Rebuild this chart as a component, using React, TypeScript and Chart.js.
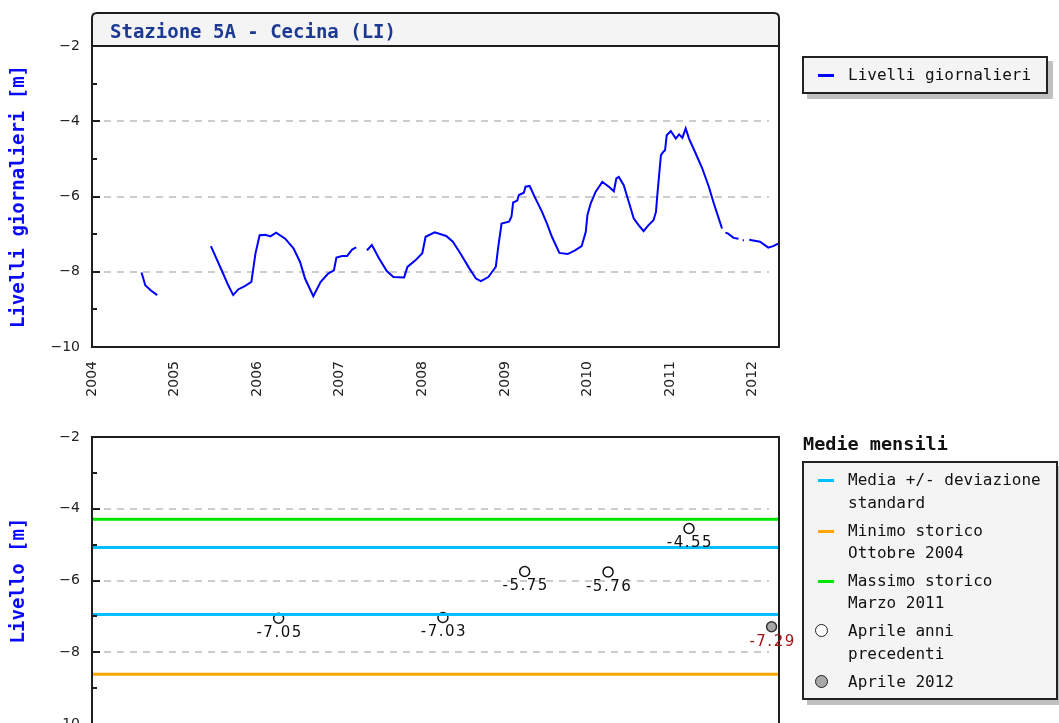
import React, { useEffect, useRef } from "react";
import { Chart, registerables } from "chart.js";

Chart.register(...registerables);

// ---------- data ----------
const X_MIN = 2004;
const X_MAX = 2012.32;
const yearTicks = [2004, 2005, 2006, 2007, 2008, 2009, 2010, 2011, 2012];
const levelTicks = [-10, -8, -6, -4, -2];
const minorLevels = [-9, -7, -5, -3];
const gridLevels = [-8, -6, -4];

// daily levels (decimal year, metres); null = missing data
const levelTimes = [
  2004.6, 2004.645, 2004.71, 2004.79, 2005.0,
  2005.44, 2005.57, 2005.65, 2005.71, 2005.77, 2005.85, 2005.93, 2005.98, 2006.03, 2006.1,
  2006.16, 2006.23, 2006.34, 2006.44, 2006.52, 2006.58, 2006.68, 2006.77, 2006.86, 2006.93,
  2006.96, 2007.03, 2007.09, 2007.15, 2007.2, 2007.26,
  2007.33, 2007.39, 2007.47, 2007.57, 2007.65, 2007.78, 2007.82, 2007.92, 2008.0, 2008.04,
  2008.15, 2008.29, 2008.37, 2008.46, 2008.57, 2008.65, 2008.71, 2008.8, 2008.86, 2008.89,
  2008.92, 2008.96, 2009.05, 2009.08, 2009.1, 2009.15, 2009.17, 2009.23, 2009.25, 2009.3,
  2009.37, 2009.45, 2009.51, 2009.57, 2009.66, 2009.76, 2009.85, 2009.93, 2009.98, 2010.0,
  2010.04, 2010.1, 2010.18, 2010.26, 2010.32, 2010.35, 2010.38, 2010.44, 2010.5, 2010.56,
  2010.62, 2010.68, 2010.74, 2010.8, 2010.83, 2010.85, 2010.89, 2010.92, 2010.94, 2010.96,
  2011.01, 2011.07, 2011.11, 2011.15, 2011.19, 2011.23, 2011.31, 2011.39, 2011.47, 2011.53,
  2011.59, 2011.63, 2011.655, 2011.67, 2011.7, 2011.77, 2011.83, 2011.86, 2011.88, 2011.895,
  2011.92, 2011.96, 2011.99, 2012.09, 2012.19, 2012.25, 2012.31,
];
const levelValues = [
  -8.02, -8.36, -8.49, -8.62, null,
  -7.32, -7.96, -8.36, -8.62, -8.47, -8.38, -8.27, -7.51, -7.03, -7.02,
  -7.06, -6.96, -7.12, -7.38, -7.74, -8.18, -8.65, -8.27, -8.05, -7.96,
  -7.62, -7.58, -7.58, -7.41, -7.35, null,
  -7.43, -7.29, -7.62, -7.98, -8.14, -8.15, -7.87, -7.69, -7.51, -7.07,
  -6.95, -7.05, -7.2, -7.51, -7.91, -8.18, -8.25, -8.14, -7.96, -7.87,
  -7.34, -6.72, -6.67, -6.54, -6.16, -6.11, -5.96, -5.9, -5.74, -5.72,
  -6.05, -6.41, -6.72, -7.07, -7.5, -7.53, -7.43, -7.32, -6.94, -6.49,
  -6.18, -5.87, -5.61, -5.74, -5.86, -5.52, -5.48, -5.7, -6.14, -6.58,
  -6.76, -6.92, -6.76, -6.63, -6.41, -5.87, -4.9, -4.81, -4.77, -4.37,
  -4.26, -4.46, -4.35, -4.44, -4.19, -4.46, -4.85, -5.25, -5.74, -6.18,
  -6.58, -6.85, null, -6.96, -6.98, -7.1, -7.12, null, -7.16, -7.16,
  null, -7.15, -7.16, -7.2, -7.36, -7.32, -7.25,
];

// monthly means (April)
const aprilYears = [2006.26, 2008.25, 2009.24, 2010.25, 2011.23];
const aprilValues = [-7.05, -7.03, -5.75, -5.76, -4.55];
const april2012Years = [2012.23];
const april2012Values = [-7.29];
const meanPlusSd = -5.08;
const meanMinusSd = -6.95;
const historicMin = -8.61;
const historicMax = -4.29;

// ---------- helpers ----------
const MONO = '"DejaVu Sans Mono", monospace';
const SANS = '"DejaVu Sans", sans-serif';

const decorPlugin = {
  id: "decor",
  beforeDatasetsDraw(chart: any, _args: any, opts: any) {
    const { ctx, chartArea: a, scales } = chart;
    const y = scales.y;
    ctx.save();
    if (opts.header) {
      ctx.fillStyle = "#f4f4f4";
      ctx.fillRect(a.left, a.top - 33, a.right - a.left, 33);
    }
    ctx.strokeStyle = "#cccccc";
    ctx.lineWidth = 2;
    ctx.setLineDash([7, 6]);
    for (const v of gridLevels) {
      const py = Math.round(y.getPixelForValue(v));
      ctx.beginPath();
      ctx.moveTo(a.left + 12, py);
      ctx.lineTo(a.right - 10, py);
      ctx.stroke();
    }
    ctx.restore();
  },
  afterDraw(chart: any, _args: any, opts: any) {
    const { ctx, chartArea: a, scales } = chart;
    const y = scales.y;
    const x = scales.x;
    ctx.save();
    ctx.strokeStyle = "#1e1e1e";
    ctx.lineWidth = 2;
    ctx.setLineDash([]);
    // frame
    const L = a.left, R = a.right, B = a.bottom;
    if (opts.header) {
      const T = a.top - 33;
      const r = 5;
      ctx.beginPath();
      ctx.moveTo(L, B);
      ctx.lineTo(L, T + r);
      ctx.quadraticCurveTo(L, T, L + r, T);
      ctx.lineTo(R - r, T);
      ctx.quadraticCurveTo(R, T, R, T + r);
      ctx.lineTo(R, B);
      ctx.closePath();
      ctx.stroke();
      ctx.beginPath();
      ctx.moveTo(L, a.top);
      ctx.lineTo(R, a.top);
      ctx.stroke();
      ctx.fillStyle = "#1c3a94";
      ctx.font = "bold 19px " + MONO;
      ctx.textAlign = "left";
      ctx.textBaseline = "alphabetic";
      ctx.fillText(opts.header, L + 18, a.top - 8);
    } else {
      ctx.strokeRect(L, a.top, R - L, B - a.top);
    }
    // inner ticks on the y axis
    for (const v of levelTicks) {
      const py = Math.round(y.getPixelForValue(v));
      ctx.beginPath();
      ctx.moveTo(L, py);
      ctx.lineTo(L + 8, py);
      ctx.stroke();
    }
    for (const v of minorLevels) {
      const py = Math.round(y.getPixelForValue(v));
      ctx.beginPath();
      ctx.moveTo(L, py);
      ctx.lineTo(L + 5, py);
      ctx.stroke();
    }
    // value labels under points
    chart.data.datasets.forEach((ds: any) => {
      if (!ds.valueLabelColor) return;
      ctx.fillStyle = ds.valueLabelColor;
      ctx.font = "15px " + SANS;
      ctx.textAlign = "center";
      ctx.textBaseline = "middle";
      try { (ctx as any).letterSpacing = "1.5px"; } catch (e) {}
      ds.data.forEach((p: any) => {
        const px = x.getPixelForValue(p.x);
        const py = y.getPixelForValue(p.y);
        ctx.fillText(p.y.toFixed(2), px + 1, py + 15);
      });
      try { (ctx as any).letterSpacing = "0px"; } catch (e) {}
    });
    ctx.restore();
  },
};

function yAxis(title: string) {
  return {
    min: -10,
    max: -2,
    grid: { display: false, drawTicks: false },
    border: { display: false },
    afterBuildTicks: (s: any) => {
      s.ticks = levelTicks.map((v) => ({ value: v }));
    },
    afterFit: (s: any) => {
      s.width = 92;
    },
    ticks: {
      padding: 12,
      color: "#222",
      font: { family: SANS, size: 14 },
      callback: (v: any) => String(v).replace("-", "\u2212"),
    },
    title: {
      display: true,
      text: title,
      color: "#0a0aff",
      font: { family: MONO, size: 19, weight: "bold" },
      padding: { top: 8, bottom: 0 },
    },
  };
}

const hline = (v: number, color: string) => ({
  type: "line",
  data: [
    { x: X_MIN, y: v },
    { x: X_MAX, y: v },
  ],
  borderColor: color,
  borderWidth: 3,
  pointRadius: 0,
  clip: false,
});

export default function App() {
  const topRef = useRef<HTMLCanvasElement>(null);
  const botRef = useRef<HTMLCanvasElement>(null);

  useEffect(() => {
    const top = new Chart(topRef.current as HTMLCanvasElement, {
      type: "line",
      data: {
        datasets: [
          {
            label: "Livelli giornalieri",
            data: levelTimes.map((t, i) => ({ x: t, y: levelValues[i] })) as any,
            borderColor: "#0000ff",
            borderWidth: 2,
            pointRadius: 0,
            spanGaps: false,
            tension: 0,
          },
        ],
      },
      options: {
        responsive: false,
        animation: false,
        events: [],
        layout: { padding: { top: 46, left: 0, right: 280, bottom: 0 } },
        plugins: {
          legend: { display: false },
          tooltip: { enabled: false },
          decor: { header: "Stazione 5A - Cecina (LI)" },
        } as any,
        scales: {
          x: {
            type: "linear",
            min: X_MIN,
            max: X_MAX,
            grid: { display: false, drawTicks: false },
            border: { display: false },
            afterBuildTicks: (s: any) => {
              s.ticks = yearTicks.map((v) => ({ value: v }));
            },
            afterFit: (s: any) => {
              s.height = 63;
            },
            ticks: {
              autoSkip: false,
              minRotation: 90,
              maxRotation: 90,
              padding: 14,
              color: "#222",
              font: { family: SANS, size: 14 },
              callback: (v: any) => String(Math.round(v)),
            },
          },
          y: yAxis("Livelli giornalieri [m]") as any,
        },
      },
      plugins: [decorPlugin as any],
    });

    const bot = new Chart(botRef.current as HTMLCanvasElement, {
      type: "line",
      data: {
        datasets: [
          hline(historicMax, "#00e600") as any,
          hline(meanPlusSd, "#00bfff") as any,
          hline(meanMinusSd, "#00bfff") as any,
          hline(historicMin, "#ffa500") as any,
          {
            label: "Aprile anni precedenti",
            data: aprilYears.map((t, i) => ({ x: t, y: aprilValues[i] })),
            showLine: false,
            pointRadius: 5,
            pointBorderWidth: 1.5,
            pointBorderColor: "#111",
            pointBackgroundColor: "#ffffff",
            clip: false,
            valueLabelColor: "#111",
          } as any,
          {
            label: "Aprile 2012",
            data: april2012Years.map((t, i) => ({ x: t, y: april2012Values[i] })),
            showLine: false,
            pointRadius: 5,
            pointBorderWidth: 1.5,
            pointBorderColor: "#333",
            pointBackgroundColor: "#a8a8a8",
            clip: false,
            valueLabelColor: "#a01414",
          } as any,
        ],
      },
      options: {
        responsive: false,
        animation: false,
        events: [],
        layout: { padding: { top: 37, left: 0, right: 280, bottom: 76 } },
        plugins: {
          legend: { display: false },
          tooltip: { enabled: false },
          decor: { header: "" },
        } as any,
        scales: {
          x: { type: "linear", min: X_MIN, max: X_MAX, display: false },
          y: yAxis("Livello [m]") as any,
        },
      },
      plugins: [decorPlugin as any],
    });

    return () => {
      top.destroy();
      bot.destroy();
    };
  }, []);

  const legendText: React.CSSProperties = {
    position: "absolute",
    left: 44,
    font: `16px ${MONO}`,
    lineHeight: "22px",
    color: "#111",
    whiteSpace: "nowrap",
  };
  const dash = (color: string, topPx: number): React.CSSProperties => ({
    position: "absolute",
    left: 14,
    top: topPx - 1.5,
    width: 16,
    height: 3,
    background: color,
  });
  const circle = (fill: string, topPx: number): React.CSSProperties => ({
    position: "absolute",
    left: 11,
    top: topPx - 7,
    width: 11,
    height: 11,
    borderRadius: "50%",
    border: "1.5px solid #222",
    background: fill,
  });
  const rows: Array<[string, number]> = [
    ["Media +/- deviazione", 19],
    ["standard", 42],
    ["Minimo storico", 70],
    ["Ottobre 2004", 92],
    ["Massimo storico", 120],
    ["Marzo 2011", 142],
    ["Aprile anni", 170],
    ["precedenti", 193],
    ["Aprile 2012", 221],
  ];

  return (
    <div
      style={{
        position: "absolute",
        left: 0,
        top: 0,
        width: 1059,
        height: 723,
        overflow: "hidden",
        background: "#fff",
      }}
    >
      <canvas ref={topRef} width={1059} height={410} style={{ position: "absolute", left: 0, top: 0 }} />
      <canvas ref={botRef} width={1059} height={400} style={{ position: "absolute", left: 0, top: 400 }} />

      {/* top legend */}
      <div
        style={{
          position: "absolute",
          left: 802,
          top: 56,
          width: 246,
          height: 38,
          boxSizing: "border-box",
          border: "2px solid #222",
          background: "#f4f4f4",
          boxShadow: "5px 5px 0 #c0c0c0",
        }}
      >
        <div style={dash("#0000ff", 17)} />
        <div style={{ ...legendText, top: 6 }}>Livelli giornalieri</div>
      </div>

      {/* bottom legend */}
      <div
        style={{
          position: "absolute",
          left: 803,
          top: 433,
          font: `bold 18.5px ${MONO}`,
          lineHeight: "22px",
          color: "#111",
          whiteSpace: "nowrap",
        }}
      >
        Medie mensili
      </div>
      <div
        style={{
          position: "absolute",
          left: 802,
          top: 461,
          width: 256,
          height: 239,
          boxSizing: "border-box",
          border: "2px solid #222",
          background: "#f4f4f4",
          boxShadow: "5px 5px 0 #c0c0c0",
        }}
      >
        <div style={dash("#00bfff", 19 - 2)} />
        <div style={dash("#ffa500", 70 - 2)} />
        <div style={dash("#00e600", 120 - 2)} />
        <div style={circle("#ffffff", 170 - 2)} />
        <div style={circle("#a8a8a8", 221 - 2)} />
        {rows.map(([t, c]) => (
          <div key={t} style={{ ...legendText, top: c - 11 - 2 }}>
            {t}
          </div>
        ))}
      </div>
    </div>
  );
}
